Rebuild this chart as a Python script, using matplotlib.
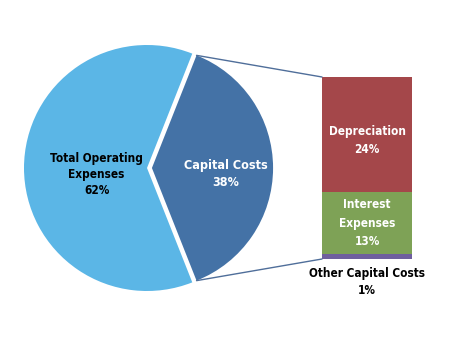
import matplotlib
matplotlib.use("Agg")
import matplotlib.pyplot as plt
from matplotlib.patches import ConnectionPatch
import numpy as np

plt.rcParams['font.family'] = ['Liberation Sans Narrow', 'DejaVu Sans']
plt.rcParams['font.stretch'] = 'condensed'

# pie data
pie_labels = ['Capital Costs', 'Total Operating\nExpenses']
pie_values = [38, 62]
pie_colors = ['#4472a6', '#5bb6e6']
pie_text_colors = ['white', 'black']

# bar data (bottom to top)
bar_labels = ['Other Capital Costs', 'Interest\nExpenses', 'Depreciation']
bar_values = [1, 13, 24]
bar_colors = ['#6f5f9e', '#7ea256', '#a4474a']
bar_text_colors = ['black', 'white', 'white']
bar_text_shift = [-6, 0, -4.5]  # points

W, H = 457, 357
fig = plt.figure(figsize=(W / 100, H / 100), dpi=100)

# pie axes: centre (147, 168) px, radius ~123 px
R = 123
cx, cy = 147, 168
lim = 1.25
ax1 = fig.add_axes([(cx - lim * R) / W, (H - cy - lim * R) / H,
                    2 * lim * R / W, 2 * lim * R / H])
wedges, _ = ax1.pie(pie_values, colors=pie_colors, explode=[0.04, 0],
                    startangle=-pie_values[0] / 100 * 180, counterclock=True,
                    radius=1)
wedges[0].set_radius(0.985)
ax1.set_xlim(-lim, lim)
ax1.set_ylim(-lim, lim)
ax1.set_aspect('equal')
ax1.axis('off')

label_dist = [0.6, 0.41]
label_size = [9, 8.5]
label_spacing = [1.45, 1.3]
for w, lab, val, tc, d, fs, ls in zip(wedges, pie_labels, pie_values, pie_text_colors,
                                      label_dist, label_size, label_spacing):
    mid = np.deg2rad((w.theta1 + w.theta2) / 2)
    x = w.center[0] + d * np.cos(mid)
    y = w.center[1] + d * np.sin(mid) - 0.05
    ax1.text(x, y, f'{lab}\n{val}%', ha='center', va='center', color=tc,
             fontsize=fs, fontweight='bold', linespacing=ls)

# bar axes: x 322..412, y 77..259 px
ax2 = fig.add_axes([322 / W, (H - 259) / H, 90 / W, 182 / H])
bottom = 0
for lab, val, col, tc, sh in zip(bar_labels, bar_values, bar_colors,
                                 bar_text_colors, bar_text_shift):
    ax2.bar(0, val, width=1, bottom=bottom, color=col)
    if val > 5:
        ax2.annotate(f'{lab}\n{val}%', xy=(0, bottom + val / 2), xytext=(0, sh),
                     textcoords='offset points', ha='center', va='center',
                     color=tc, fontsize=8.5, fontweight='bold', linespacing=1.55)
    else:
        ax2.annotate(f'{lab}\n{val}%', xy=(0, bottom), xytext=(0, sh),
                     textcoords='offset points', ha='center', va='top',
                     color=tc, fontsize=8.5, fontweight='bold', linespacing=1.35,
                     annotation_clip=False)
    bottom += val
ax2.set_xlim(-0.5, 0.5)
ax2.set_ylim(0, sum(bar_values))
ax2.axis('off')

# connectors from capital costs wedge to the bar
w = wedges[0]
for theta, yb in [(w.theta2, sum(bar_values)), (w.theta1, 0)]:
    t = np.deg2rad(theta)
    x = w.center[0] + w.r * np.cos(t)
    y = w.center[1] + w.r * np.sin(t)
    con = ConnectionPatch(xyA=(-0.5, yb), coordsA=ax2.transData,
                          xyB=(x, y), coordsB=ax1.transData,
                          color='#4f6e9a', linewidth=1)
    fig.add_artist(con)

fig.savefig('out.png', dpi=100)
